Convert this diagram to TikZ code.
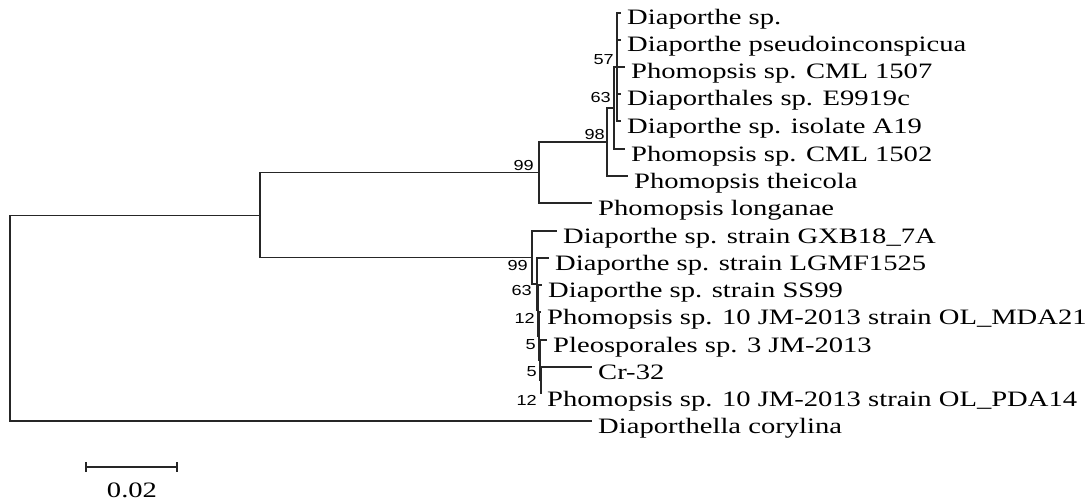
\documentclass[tikz,border=0pt]{standalone}
\usepackage{graphicx}
\usepackage{fontspec}
\newfontfamily\serifl{Liberation Serif}
\newfontfamily\sansl{Liberation Sans}
\newcommand{\sx}[1]{\scalebox{1.30}[1]{#1}}
\newcommand{\bootsx}[1]{\scalebox{1.25}[1]{#1}}
\begin{document}
\begin{tikzpicture}[x=1pt,y=-1pt,
  br/.style={draw=black!85,line width=1.2pt},
  leaf/.style={inner sep=0pt,anchor=base west,font=\serifl\fontsize{22}{25}\selectfont},
  boot/.style={inner sep=0pt,anchor=east,font=\sansl\fontsize{14.5}{16}\selectfont},
  scl/.style={inner sep=0pt,anchor=base,font=\serifl\fontsize{22}{25}\selectfont}]
\useasboundingbox (0,0) rectangle (1089,500);
% internal nodes
\coordinate (R) at (10,318);
\coordinate (A) at (260,215.5);
\coordinate (B) at (539,172.5);
\coordinate (D) at (607,142);
\coordinate (E) at (614,108);
\coordinate (F) at (617,67);
\coordinate (C) at (532,257.5);
\coordinate (G) at (537,284);
\coordinate (H) at (538,310.5);
\coordinate (I) at (539,336);
\coordinate (J) at (540,360);
\coordinate (K) at (541,380.5);
% leaf ends
\coordinate (e1) at (621,13);
\coordinate (e2) at (621,40);
\coordinate (e3) at (625,67);
\coordinate (e4) at (621,94);
\coordinate (e5) at (621,121);
\coordinate (e6) at (625,149);
\coordinate (e7) at (628,176);
\coordinate (e8) at (592,203);
\coordinate (e9) at (557,231);
\coordinate (e10) at (549,258);
\coordinate (e11) at (542,285);
\coordinate (e12) at (541,312);
\coordinate (e13) at (547,340);
\coordinate (e14) at (592,367);
\coordinate (e15) at (541,394);
\coordinate (e16) at (592,421);
% branches
\draw[br] (R) |- (A);
\draw[br] (R) |- (e16);
\draw[br] (A) |- (B);
\draw[br] (A) |- (C);
\draw[br] (B) |- (D);
\draw[br] (B) |- (e8);
\draw[br] (D) |- (E);
\draw[br] (D) |- (e7);
\draw[br] (E) |- (F);
\draw[br] (E) |- (e6);
\draw[br] (F) |- (e1);
\draw[br] (F) |- (e2);
\draw[br] (F) |- (e3);
\draw[br] (F) |- (e4);
\draw[br] (F) |- (e5);
\draw[br] (C) |- (e9);
\draw[br] (C) |- (G);
\draw[br] (G) |- (e10);
\draw[br] (G) |- (H);
\draw[br] (H) |- (e11);
\draw[br] (H) |- (I);
\draw[br] (I) |- (e12);
\draw[br] (I) |- (J);
\draw[br] (J) |- (e13);
\draw[br] (J) |- (K);
\draw[br] (K) |- (e14);
\draw[br] (K) |- (e15);
% leaf labels
\node[leaf] (t1) at ([xshift=6pt,yshift=-12pt]e1) {\sx{Diaporthe sp.}};
\node[leaf] (t2) at ([xshift=6pt,yshift=-12pt]e2) {\sx{Diaporthe pseudoinconspicua}};
\node[leaf] (t3) at ([xshift=6pt,yshift=-12pt]e3) {\sx{Phomopsis sp. CML 1507}};
\node[leaf] (t4) at ([xshift=6pt,yshift=-12pt]e4) {\sx{Diaporthales sp. E9919c}};
\node[leaf] (t5) at ([xshift=6pt,yshift=-12pt]e5) {\sx{Diaporthe sp. isolate A19}};
\node[leaf] (t6) at ([xshift=6pt,yshift=-12pt]e6) {\sx{Phomopsis sp. CML 1502}};
\node[leaf] (t7) at ([xshift=6pt,yshift=-12pt]e7) {\sx{Phomopsis theicola}};
\node[leaf] (t8) at ([xshift=6pt,yshift=-12pt]e8) {\sx{Phomopsis longanae}};
\node[leaf] (t9) at ([xshift=6pt,yshift=-12pt]e9) {\sx{Diaporthe sp. strain GXB18\_7A}};
\node[leaf] (t10) at ([xshift=6pt,yshift=-12pt]e10) {\sx{Diaporthe sp. strain LGMF1525}};
\node[leaf] (t11) at ([xshift=6pt,yshift=-12pt]e11) {\sx{Diaporthe sp. strain SS99}};
\node[leaf] (t12) at ([xshift=6pt,yshift=-12pt]e12) {\sx{Phomopsis sp. 10 JM-2013 strain OL\_MDA21}};
\node[leaf] (t13) at ([xshift=6pt,yshift=-12pt]e13) {\sx{Pleosporales sp. 3 JM-2013}};
\node[leaf] (t14) at ([xshift=6pt,yshift=-12pt]e14) {\sx{Cr-32}};
\node[leaf] (t15) at ([xshift=6pt,yshift=-12pt]e15) {\sx{Phomopsis sp. 10 JM-2013 strain OL\_PDA14}};
\node[leaf] (t16) at ([xshift=6pt,yshift=-12pt]e16) {\sx{Diaporthella corylina}};
% bootstrap values
\node[boot] (bB) at (534,166) {\bootsx{99}};
\node[boot] (bD) at (605,135) {\bootsx{98}};
\node[boot] (bE) at (611,98) {\bootsx{63}};
\node[boot] (bF) at (614,60) {\bootsx{57}};
\node[boot] (bC) at (528,266) {\bootsx{99}};
\node[boot] (bG) at (532,291) {\bootsx{63}};
\node[boot] (bH) at (535,318) {\bootsx{12}};
\node[boot] (bI) at (536,345) {\bootsx{5}};
\node[boot] (bJ) at (537,372) {\bootsx{5}};
\node[boot] (bK) at (537,400) {\bootsx{12}};
% scale bar
\coordinate (s1) at (86,467);
\coordinate (s2) at (177,467);
\draw[br] (s1) -- (s2);
\draw[br] ([yshift=5pt]s1) -- ([yshift=-5pt]s1);
\draw[br] ([yshift=5pt]s2) -- ([yshift=-5pt]s2);
\node[scl] (sl) at (132,497) {\sx{0.02}};
\end{tikzpicture}
\end{document}
